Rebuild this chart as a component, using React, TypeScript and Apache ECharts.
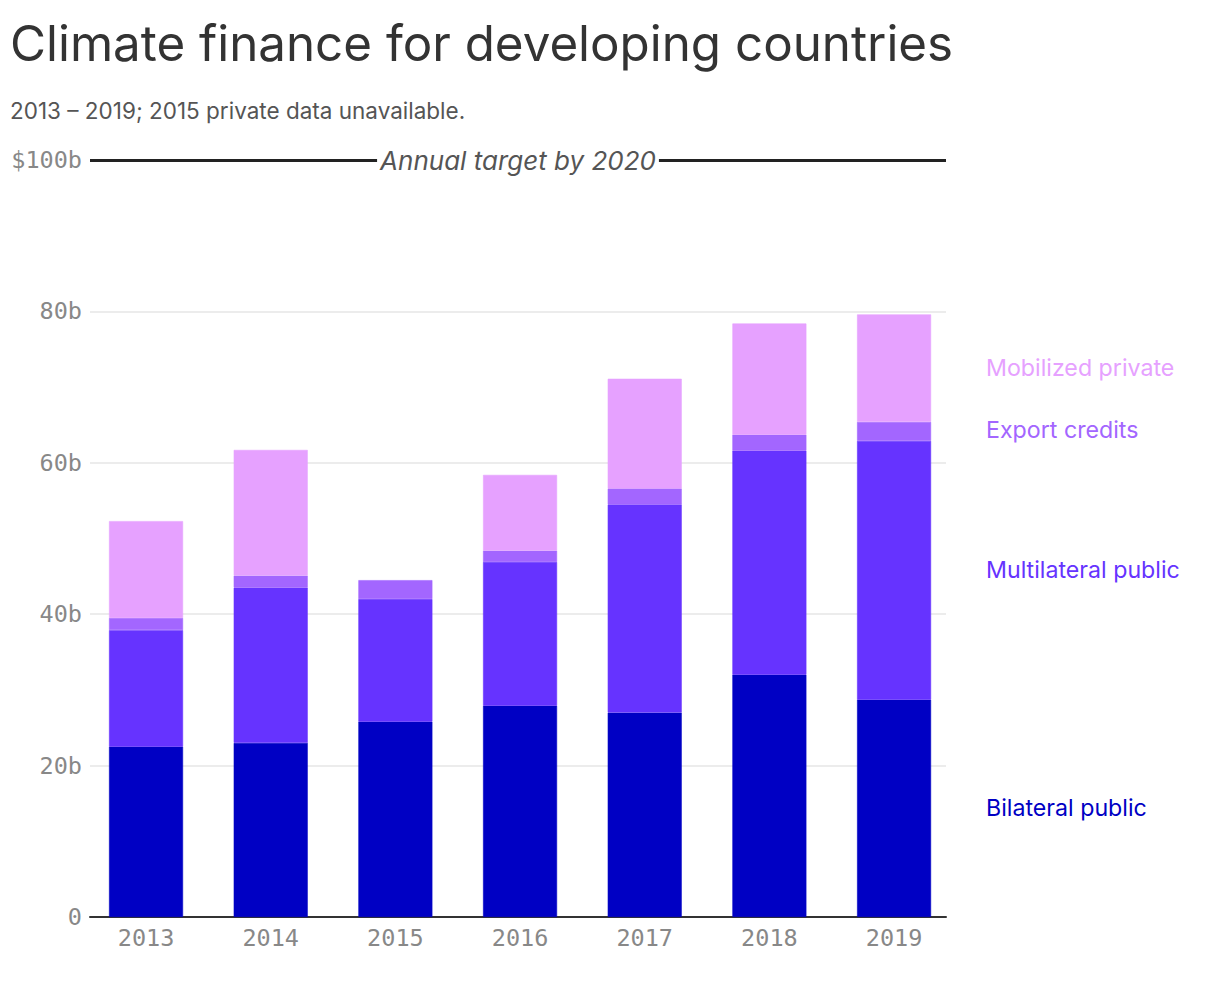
import React, { useEffect, useRef } from 'react';
import * as echarts from 'echarts';

// years on the x axis
const years = ['2013', '2014', '2015', '2016', '2017', '2018', '2019'];

// billions of USD
const bilateralPublic = [22.5, 23.0, 25.8, 27.9, 27.0, 32.0, 28.7];
const multilateralPublic = [15.4, 20.5, 16.2, 19.0, 27.5, 29.6, 34.2];
const exportCredits = [1.6, 1.6, 2.5, 1.5, 2.1, 2.1, 2.5];
const mobilizedPrivate = [12.8, 16.6, null, 10.0, 14.5, 14.7, 14.2]; // 2015 unavailable

const yTicks = [0, 20, 40, 60, 80, 100];
const targetValue = 100;

const COLORS = {
  bilateral: '#0000c4',
  multilateral: '#6633ff',
  exportCredits: '#a366ff',
  privateMob: '#e6a1ff'
};

const SANS = 'Inter, "Noto Sans", sans-serif';
const MONO = '"DejaVu Sans Mono", monospace';

const W = 1220;
const H = 1006;

const App: React.FC = () => {
  const chartRef = useRef<HTMLDivElement>(null);

  useEffect(() => {
    if (!chartRef.current) return;
    const chart = echarts.init(chartRef.current, null, { renderer: 'svg' });

    const barSeries = (name: string, data: (number | null)[], color: string) => ({
      name,
      type: 'bar',
      stack: 'total',
      xAxisIndex: 1,
      yAxisIndex: 1,
      barWidth: 74,
      data,
      // thin stroke of the same colour hides the seams between stacked pieces
      itemStyle: { color, borderColor: color, borderWidth: 0.6 },
      silent: true
    });

    // legend labels placed beside the 2019 bar
    const legendLabels = [
      { text: 'Mobilized private', y: 368, color: COLORS.privateMob },
      { text: 'Export credits', y: 430, color: COLORS.exportCredits },
      { text: 'Multilateral public', y: 570, color: COLORS.multilateral },
      { text: 'Bilateral public', y: 808, color: COLORS.bilateral }
    ];

    chart.setOption({
      animation: false,
      grid: [
        // axis frame: gridlines, y labels, baseline, target line
        { left: 90, right: W - 946, top: 160, bottom: H - 917 },
        // bars
        { left: 83.7, width: 872.7, top: 160, bottom: H - 917 }
      ],
      xAxis: [
        {
          type: 'category',
          gridIndex: 0,
          data: years,
          axisLine: { show: true, lineStyle: { color: '#333', width: 2 } },
          axisTick: { show: false },
          axisLabel: { show: false }
        },
        {
          type: 'category',
          gridIndex: 1,
          data: years,
          axisLine: { show: false },
          axisTick: { show: false },
          axisLabel: {
            color: '#888',
            fontFamily: MONO,
            fontSize: 23.5,
            margin: 9
          }
        }
      ],
      yAxis: [
        {
          type: 'value',
          gridIndex: 0,
          min: yTicks[0],
          max: yTicks[yTicks.length - 1],
          interval: 20,
          axisLine: { show: false },
          axisTick: { show: false },
          splitLine: { lineStyle: { color: '#e6e6e6', width: 1.5 } },
          axisLabel: {
            color: '#888',
            fontFamily: MONO,
            fontSize: 23.5,
            margin: 8,
            formatter: (v: number) => (v === 0 ? '0' : v === targetValue ? `$${v}b` : `${v}b`)
          }
        },
        {
          type: 'value',
          gridIndex: 1,
          min: yTicks[0],
          max: yTicks[yTicks.length - 1],
          show: false
        }
      ],
      series: [
        {
          name: 'target',
          type: 'bar',
          xAxisIndex: 0,
          yAxisIndex: 0,
          data: [],
          silent: true,
          markLine: {
            silent: true,
            symbol: 'none',
            lineStyle: { color: '#222', width: 3, type: 'solid' },
            label: {
              show: true,
              position: 'insideMiddle',
              formatter: 'Annual target by 2020',
              fontFamily: SANS,
              fontStyle: 'italic',
              fontSize: 26,
              color: '#555',
              backgroundColor: '#fff',
              padding: [2, 3]
            },
            data: [{ yAxis: targetValue }]
          }
        },
        barSeries('Bilateral public', bilateralPublic, COLORS.bilateral),
        barSeries('Multilateral public', multilateralPublic, COLORS.multilateral),
        barSeries('Export credits', exportCredits, COLORS.exportCredits),
        barSeries('Mobilized private', mobilizedPrivate, COLORS.privateMob)
      ],
      graphic: [
        {
          type: 'text',
          left: 10,
          top: 18,
          style: {
            text: 'Climate finance for developing countries',
            font: `49.3px ${SANS}`,
            fill: '#333'
          }
        },
        {
          type: 'text',
          left: 10,
          top: 99,
          style: {
            text: '2013 – 2019; 2015 private data unavailable.',
            font: `22.5px ${SANS}`,
            fill: '#555'
          }
        },
        ...legendLabels.map((l) => ({
          type: 'text',
          x: 986,
          y: l.y,
          style: {
            text: l.text,
            font: `23.2px ${SANS}`,
            fill: l.color,
            textVerticalAlign: 'middle'
          }
        }))
      ]
    });

    return () => {
      chart.dispose();
    };
  }, []);

  return (
    <div
      ref={chartRef}
      style={{ position: 'absolute', left: 0, top: 0, width: W, height: H, background: '#fff' }}
    />
  );
};

export default App;
